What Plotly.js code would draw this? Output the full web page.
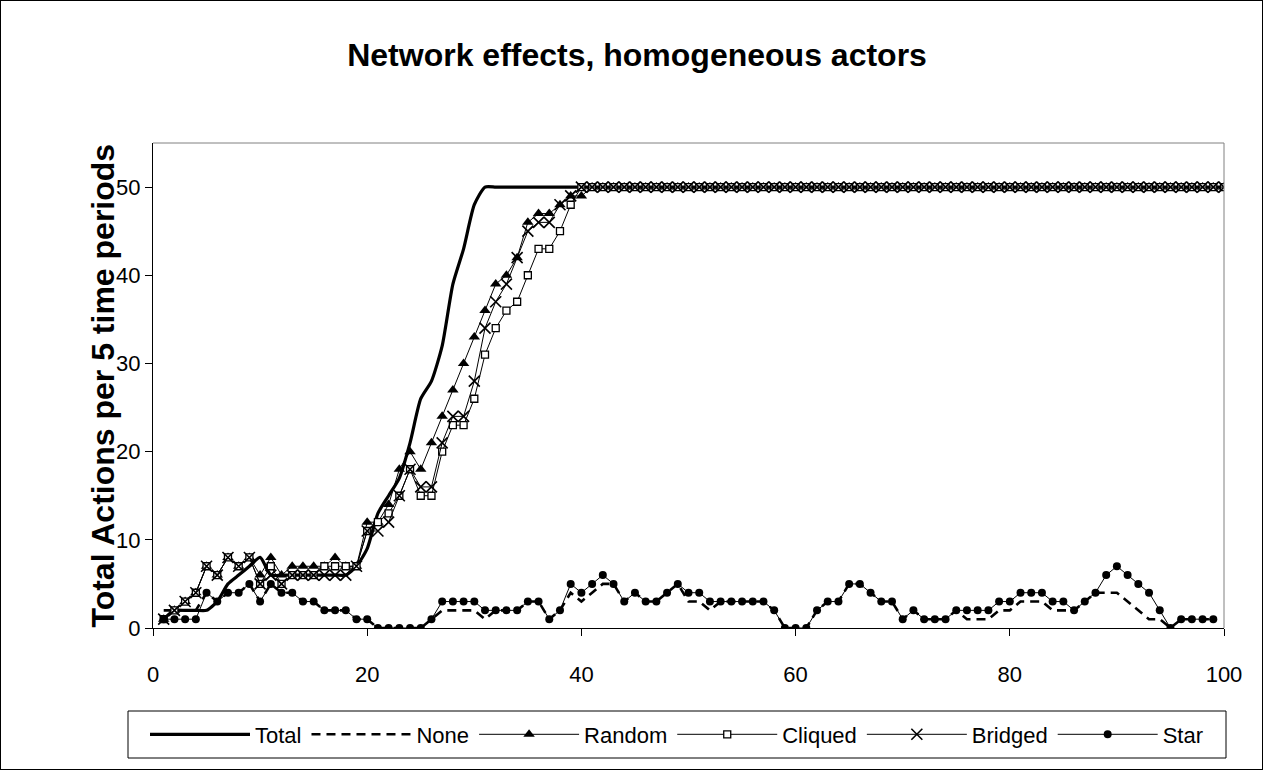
<!DOCTYPE html>
<html>
<head>
<meta charset="utf-8">
<script src="https://cdn.plot.ly/plotly-3.0.1.min.js"></script>
<style>
  html, body { margin: 0; padding: 0; background: #fff; }
  #wrap { position: relative; width: 1269px; height: 777px; }
  #chart { position: absolute; left: 0; top: 0; width: 1269px; height: 777px; }
  #frame { position: absolute; left: 0; top: 0; width: 1261px; height: 768px; border: 1px solid #000; pointer-events: none; }
</style>
</head>
<body>
<div id="wrap"><div id="chart"></div><div id="frame"></div></div>
<script>
// time periods
const periods = [
  1,2,3,4,5,6,7,8,9,10,11,12,13,14,15,16,17,18,19,20,
  21,22,23,24,25,26,27,28,29,30,31,32,33,34,35,36,37,38,39,40,
  41,42,43,44,45,46,47,48,49,50,51,52,53,54,55,56,57,58,59,60,
  61,62,63,64,65,66,67,68,69,70,71,72,73,74,75,76,77,78,79,80,
  81,82,83,84,85,86,87,88,89,90,91,92,93,94,95,96,97,98,99,100
];

const total = [
  1,2,2,2,2,3,5,6,7,8, 6,6,6,6,6,6,6,6,7,9,
  13,15,17,21,26,28,32,39,43,48, 50,50,50,50,50,50,50,50,50,50,
  50,50,50,50,50,50,50,50,50,50, 50,50,50,50,50,50,50,50,50,50,
  50,50,50,50,50,50,50,50,50,50, 50,50,50,50,50,50,50,50,50,50,
  50,50,50,50,50,50,50,50,50,50, 50,50,50,50,50,50,50,50,50,50
];

const none = [
  2,2,2,2,4,3,4,4,5,3, 5,4,4,3,3,2,2,2,1,1,
  0,0,0,0,0,1,2,2,2,2, 1,2,2,2,3,3,1,2,4,3,
  4,5,5,3,4,3,3,4,5,3, 3,2,3,3,3,3,3,2,0,0,
  0,2,3,3,5,5,4,3,3,1, 2,1,1,1,2,1,1,1,2,2,
  3,3,3,2,2,2,3,4,4,4, 3,2,1,1,0,1,1,1,1
];

const random = [
  1,2,3,4,7,6,8,7,8,6, 8,6,7,7,7,7,8,7,7,12,
  12,14,18,20,18,21,24,27,30,33, 36,39,40,42,46,47,47,48,49,49,
  50,50,50,50,50,50,50,50,50,50, 50,50,50,50,50,50,50,50,50,50,
  50,50,50,50,50,50,50,50,50,50, 50,50,50,50,50,50,50,50,50,50,
  50,50,50,50,50,50,50,50,50,50, 50,50,50,50,50,50,50,50,50,50
];

const cliqued = [
  1,2,3,4,7,6,8,7,8,5, 7,5,6,6,6,7,7,7,7,11,
  12,13,15,18,15,15,20,23,23,26, 31,34,36,37,40,43,43,45,48,50,
  50,50,50,50,50,50,50,50,50,50, 50,50,50,50,50,50,50,50,50,50,
  50,50,50,50,50,50,50,50,50,50, 50,50,50,50,50,50,50,50,50,50,
  50,50,50,50,50,50,50,50,50,50, 50,50,50,50,50,50,50,50,50,50
];

const bridged = [
  1,2,3,4,7,6,8,7,8,5, 6,5,6,6,6,6,6,6,7,11,
  11,12,15,18,16,16,21,24,24,28, 34,37,39,42,45,46,46,48,49,50,
  50,50,50,50,50,50,50,50,50,50, 50,50,50,50,50,50,50,50,50,50,
  50,50,50,50,50,50,50,50,50,50, 50,50,50,50,50,50,50,50,50,50,
  50,50,50,50,50,50,50,50,50,50, 50,50,50,50,50,50,50,50,50,50
];

const star = [
  1,1,1,1,4,3,4,4,5,3, 5,4,4,3,3,2,2,2,1,1,
  0,0,0,0,0,1,3,3,3,3, 2,2,2,2,3,3,1,2,5,4,
  5,6,5,3,4,3,3,4,5,4, 4,3,3,3,3,3,3,2,0,0,
  0,2,3,3,5,5,4,3,3,1, 2,1,1,1,2,2,2,2,3,3,
  4,4,4,3,3,2,3,4,6,7, 6,5,4,2,0,1,1,1,1
];

const xTicks = [0, 20, 40, 60, 80, 100];
const yTicks = [0, 10, 20, 30, 40, 50];

const FONT = '"Liberation Sans", Arial, sans-serif';

const traces = [
  { name: 'Total', x: periods.slice(0, total.length), y: total, mode: 'lines',
    line: { color: '#000', width: 3.2, shape: 'spline', smoothing: 0.6 } },
  { name: 'None', x: periods.slice(0, none.length), y: none, mode: 'lines',
    line: { color: '#000', width: 2.6, dash: '9px,6px' } },
  { name: 'Random', x: periods.slice(0, random.length), y: random, mode: 'lines+markers',
    line: { color: '#000', width: 1 },
    marker: { symbol: 'triangle-up', size: 10, color: '#000' } },
  { name: 'Cliqued', x: periods.slice(0, cliqued.length), y: cliqued, mode: 'lines+markers',
    line: { color: '#000', width: 1 },
    marker: { symbol: 'square', size: 7, color: '#fff', line: { color: '#000', width: 1.3 } } },
  { name: 'Bridged', x: periods.slice(0, bridged.length), y: bridged, mode: 'lines+markers',
    line: { color: '#000', width: 1 },
    marker: { symbol: 'x-thin', size: 11, color: '#000', line: { color: '#000', width: 1.6 } } },
  { name: 'Star', x: periods.slice(0, star.length), y: star, mode: 'lines+markers',
    line: { color: '#000', width: 1 },
    marker: { symbol: 'circle', size: 8, color: '#000' } }
];

const legX0 = (128 - 153) / 1071, legX1 = (1226 - 153) / 1071;
const legY0 = (628 - 758) / 485, legY1 = (628 - 711) / 485;

const layout = {
  width: 1269, height: 777,
  margin: { l: 153, r: 45, t: 143, b: 149 },
  paper_bgcolor: '#fff', plot_bgcolor: '#fff',
  font: { family: FONT, color: '#000', size: 22 },
  showlegend: true,
  title: { text: '<b>Network effects, homogeneous actors</b>',
           font: { family: FONT, size: 32, color: '#000' },
           x: 0.502, xanchor: 'center', y: 1 - 55/777, yanchor: 'middle' },
  xaxis: { range: [0, 100], tickvals: xTicks, ticktext: xTicks.map(String),
           showgrid: false, zeroline: false, showline: true, linecolor: '#000', linewidth: 1,
           ticks: 'outside', ticklen: 7, tickcolor: '#000', tickwidth: 1,
           ticklabelstandoff: 20,
           tickfont: { family: FONT, size: 22, color: '#000' } },
  yaxis: { range: [0, 55], tickvals: yTicks, ticktext: yTicks.map(String),
           showgrid: false, zeroline: false, showline: true, linecolor: '#000', linewidth: 1,
           ticks: 'outside', ticklen: 7, tickcolor: '#000', tickwidth: 1,
           tickfont: { family: FONT, size: 22, color: '#000' } },
  shapes: [
    { type: 'line', xref: 'paper', yref: 'paper', x0: 0, x1: 1, y0: 1, y1: 1,
      line: { color: '#808080', width: 1 } },
    { type: 'line', xref: 'paper', yref: 'paper', x0: 1, x1: 1, y0: 0, y1: 1,
      line: { color: '#808080', width: 1 } },
    { type: 'rect', xref: 'paper', yref: 'paper', x0: legX0, x1: legX1, y0: legY0, y1: legY1,
      line: { color: '#000', width: 1 }, fillcolor: 'rgba(0,0,0,0)' }
  ],
  annotations: [
    { text: '<b>Total Actions per 5 time periods</b>', xref: 'paper', yref: 'paper',
      x: (102 - 153) / 1071, y: 0.5, xanchor: 'center', yanchor: 'middle',
      textangle: -90, showarrow: false, font: { family: FONT, size: 32, color: '#000' } }
  ],
  legend: { orientation: 'h', x: (677 - 153) / 1071, xanchor: 'center',
            y: (legY0 + legY1) / 2, yanchor: 'middle',
            borderwidth: 0, bgcolor: 'rgba(0,0,0,0)',
            itemwidth: 100, font: { family: FONT, size: 22, color: '#000' } }
};

Plotly.newPlot('chart', traces, layout, { displayModeBar: false, staticPlot: true });
</script>
</body>
</html>
